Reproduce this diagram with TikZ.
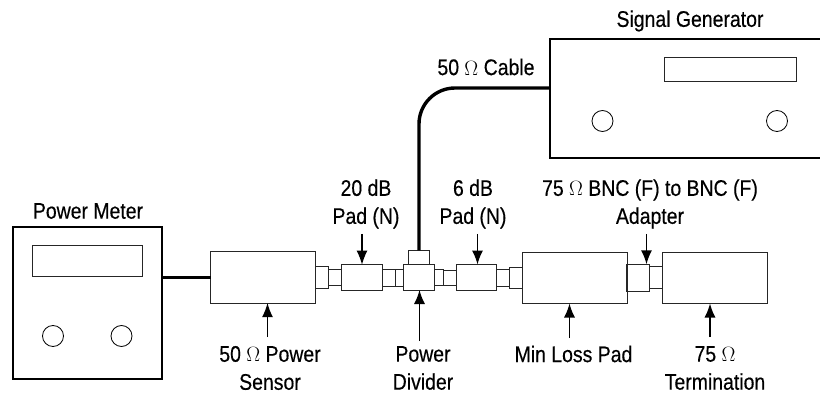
\documentclass[tikz,border=0pt]{standalone}
\usepackage{fontspec}
\setmainfont[FakeStretch=0.86,FakeBold=0.35]{Liberation Sans}
\usetikzlibrary{arrows.meta}
\begin{document}
\begin{tikzpicture}[x=1pt,y=-1pt,
    part/.style={draw,rectangle,inner sep=0pt,outer sep=0pt,line width=1pt,black!85},
    unit/.style={part,line width=2pt,black},
    knob/.style={draw,circle,inner sep=0pt,outer sep=0pt,minimum size=21pt,line width=0.8pt},
    lead/.style={line width=3.4pt},
    callout/.style={-{Latex[length=14pt,width=11pt]},line width=1.4pt},
    tag/.style={align=center,inner sep=0pt,font=\fontsize{22.6}{28}\selectfont}]
    \clip (0,0) rectangle (820,393);

    % power meter
    \node[unit,minimum width=148.5pt,minimum height=152pt] (meter) at (87.25,303) {};
    \node[part,minimum width=109.5pt,minimum height=31.5pt] (meterscreen) at (87.25,260.75) {};
    \node[knob] (meterknobl) at (53,336) {};
    \node[knob] (meterknobr) at (121.5,336) {};
    \node[tag] (metertag) at (88,211) {Power Meter};

    % signal generator
    \node[unit,minimum width=300pt,minimum height=118.5pt] (gen) at (699.7,98.75) {};
    \node[part,minimum width=132.4pt,minimum height=24.5pt] (genscreen) at (730.5,69.75) {};
    \node[knob] (genknobl) at (602.5,121) {};
    \node[knob] (genknobr) at (777,121) {};
    \node[tag] (gentag) at (690,21) {Signal Generator};

    % chain of parts
    \node[part,minimum width=105.2pt,minimum height=51.7pt] (sensor) at (263.1,277.2) {};
    \node[part,minimum width=12.6pt,minimum height=22pt] (conna) at (322,277.3) {};
    \node[part,minimum width=13.4pt,minimum height=16.5pt] (connb) at (335,277.3) {};
    \node[part,minimum width=40.6pt,minimum height=25.6pt] (padtwenty) at (362,277.5) {};
    \node[part,minimum width=13.2pt,minimum height=17pt] (connc) at (388.9,277.5) {};
    \node[part,minimum width=8.2pt,minimum height=17pt] (connd) at (399.6,277.5) {};
    \node[part,minimum width=31pt,minimum height=26pt] (divider) at (419.2,277) {};
    \node[part,minimum width=20.6pt,minimum height=13.7pt] (dividertop) at (419,257.15) {};
    \node[part,minimum width=8.3pt,minimum height=16.7pt] (conne) at (438.85,277.35) {};
    \node[part,minimum width=13.3pt,minimum height=15pt] (connf) at (449.65,277.5) {};
    \node[part,minimum width=40.4pt,minimum height=25.5pt] (padsix) at (476.5,277.25) {};
    \node[part,minimum width=13pt,minimum height=17pt] (conng) at (503.2,277.5) {};
    \node[part,minimum width=12.3pt,minimum height=21pt] (connh) at (515.85,277.5) {};
    \node[part,minimum width=105pt,minimum height=51pt] (minloss) at (522,278) [anchor=west] {};
    \node[part,minimum width=22.5pt,minimum height=27.4pt] (adapter) at (638,278) {};
    \node[part,minimum width=13pt,minimum height=22pt] (adapterb) at (655.8,277.5) {};
    \node[part,minimum width=105.2pt,minimum height=51.5pt] (term) at (714.9,277.75) {};

    % cables
    \draw[lead] (meter.east |- sensor.west) -- (sensor.west);
    \draw[lead,rounded corners=36pt] (gen.west |- 0,88) -- (419,88) -- (dividertop.north);

    % labels above
    \node[tag] (padtwentytag) at (366,204) {20 dB\\Pad (N)};
    \node[tag] (padsixtag) at (473,204) {6 dB\\Pad (N)};
    \node[tag] (adaptertag) at (650,204) {75 $\Omega$ BNC (F) to BNC (F)\\Adapter};
    \node[tag] (cabletag) at (486,67) {50 $\Omega$ Cable};

    % labels below
    \node[tag] (sensortag) at (270,368) {50 $\Omega$ Power\\Sensor};
    \node[tag] (dividertag) at (423,368) {Power\\Divider};
    \node[tag] (minlosstag) at (573.5,354) {Min Loss Pad};
    \node[tag] (termtag) at (715,368) {75 $\Omega$\\Termination};

    % arrows
    \coordinate (padtwentyend) at (362,234);
    \coordinate (padsixend) at (477.5,234);
    \coordinate (adapterend) at (646.5,234);
    \coordinate (sensorend) at (267.5,337);
    \coordinate (dividerend) at (419.5,341);
    \coordinate (minlossend) at (569.5,338);
    \coordinate (termend) at (710,337);
    \draw[callout] (padtwentyend) -- (padtwentyend |- padtwenty.north);
    \draw[callout] (padsixend) -- (padsixend |- padsix.north);
    \draw[callout] (adapterend) -- (adapterend |- adapter.north);
    \draw[callout] (sensorend) -- (sensorend |- sensor.south);
    \draw[callout] (dividerend) -- (dividerend |- divider.south);
    \draw[callout] (minlossend) -- (minlossend |- minloss.south);
    \draw[callout] (termend) -- (termend |- term.south);
\end{tikzpicture}
\end{document}
